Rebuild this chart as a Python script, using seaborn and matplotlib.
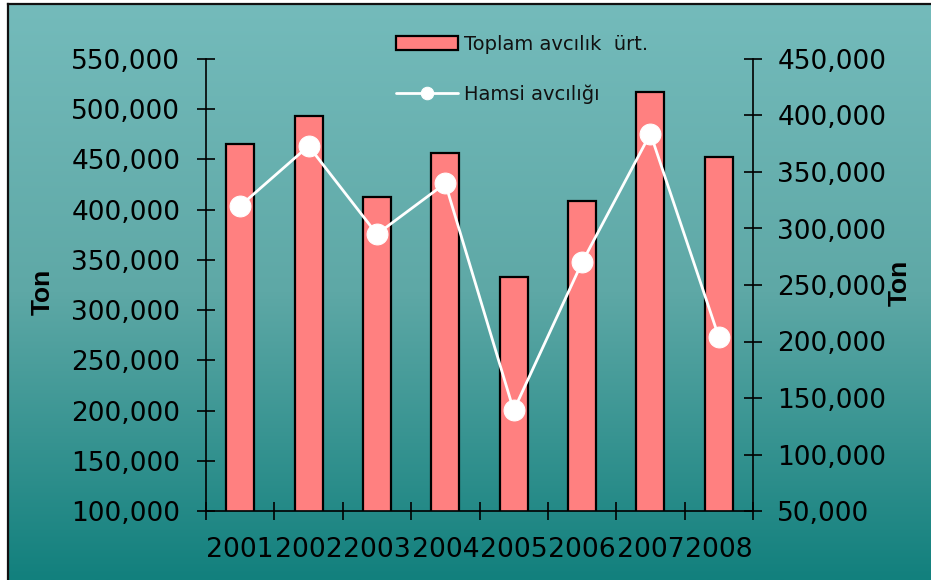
import numpy as np
import pandas as pd
import matplotlib
matplotlib.use("Agg")
import matplotlib.pyplot as plt
from matplotlib.colors import LinearSegmentedColormap
from matplotlib.ticker import FuncFormatter, FixedLocator
import seaborn as sns

# Annual catch data (tonnes)
years = ["2001", "2002", "2003", "2004", "2005", "2006", "2007", "2008"]
toplam = [465000, 493000, 413000, 456000, 333000, 409000, 517000, 452000]
hamsi = [320000, 373000, 295000, 340000, 139000, 270000, 384000, 204000]

left_ticks = [100000, 150000, 200000, 250000, 300000, 350000, 400000, 450000, 500000, 550000]
right_ticks = [50000, 100000, 150000, 200000, 250000, 300000, 350000, 400000, 450000]

label_bar = "Toplam avcılık  ürt."
label_line = "Hamsi avcılığı"

sns.set_theme(style="white")
plt.rcParams["font.family"] = ["DejaVu Sans"]
plt.rcParams["text.color"] = "black"

W, H = 931, 580
fig = plt.figure(figsize=(W / 100, H / 100), dpi=100)
fig.patch.set_facecolor("white")

# Gradient panel behind the chart
bg = fig.add_axes([8 / W, 0, 1 - 8 / W + 0.01, 1 - 4 / H], zorder=0)
cmap = LinearSegmentedColormap.from_list("teal", ["#74bbbb", "#5ea8a6", "#12807d"])
grad = np.linspace(0, 1, 256).reshape(-1, 1)
bg.imshow(grad, aspect="auto", cmap=cmap, extent=[0, 1, 0, 1], origin="upper")
bg.set_xlim(0, 1)
bg.set_ylim(0, 1)
bg.set_xticks([])
bg.set_yticks([])
for side, sp in bg.spines.items():
    sp.set_visible(side in ("left", "top"))
    sp.set_color("#111111")
    sp.set_linewidth(1.6)

ax_l, ax_r, ax_t, ax_b = 206, 753, 59, 511
ax = fig.add_axes([ax_l / W, 1 - ax_b / H, (ax_r - ax_l) / W, (ax_b - ax_t) / H], zorder=1)
ax.patch.set_alpha(0)

df = pd.DataFrame({"year": years, "toplam": toplam, "hamsi": hamsi})

sns.barplot(data=df, x="year", y="toplam", ax=ax, color="#ff8080", saturation=1,
            width=0.41, edgecolor="black", linewidth=1.6, label=label_bar)
ax.set_xlim(-0.5, len(years) - 0.5)
ax.set_ylim(100000, 550000)

ax2 = ax.twinx()
ax2.patch.set_alpha(0)
xpos = np.arange(len(years))
sns.lineplot(x=xpos, y=df["hamsi"], ax=ax2, color="white", linewidth=2,
             marker="o", markersize=15, markeredgecolor="white", label=label_line)
ax2.set_ylim(50000, 450000)
ax2.set_xlim(-0.5, len(years) - 0.5)

fmt = FuncFormatter(lambda v, p: f"{int(v):,}")
ax.yaxis.set_major_locator(FixedLocator(left_ticks))
ax.yaxis.set_major_formatter(fmt)
ax2.yaxis.set_major_locator(FixedLocator(right_ticks))
ax2.yaxis.set_major_formatter(fmt)

tick_font = 19
ax.tick_params(axis="y", direction="inout", length=13, width=1.2, color="black",
               labelsize=tick_font, labelcolor="black", pad=12, left=True)
ax2.tick_params(axis="y", direction="inout", length=13, width=1.2, color="black",
                labelsize=tick_font, labelcolor="black", pad=11, right=True)

# Category labels centred, boundary ticks as minor ticks
ax.set_xticks(xpos)
ax.set_xticklabels(years)
ax.set_xticks(np.arange(len(years) + 1) - 0.5, minor=True)
ax.tick_params(axis="x", which="major", length=0, labelsize=19.2, labelcolor="black", pad=19)
ax.tick_params(axis="x", which="minor", direction="inout", length=13, width=1.2,
               color="black", bottom=True)

for a in (ax, ax2):
    a.spines["top"].set_visible(False)
    for s in ("left", "right", "bottom"):
        a.spines[s].set_color("black")
        a.spines[s].set_linewidth(1.2)
ax.spines["right"].set_visible(False)
ax2.spines["left"].set_visible(False)
ax2.spines["bottom"].set_visible(False)

ax.set_xlabel("")
ax.set_ylabel("Ton", fontsize=19, fontweight="bold", family="Liberation Sans", color="black")
ax.yaxis.set_label_coords(-0.276, 0.485)
ax2.set_ylabel("Ton", fontsize=19, fontweight="bold", family="Liberation Sans",
               rotation=90, color="black")
ax2.yaxis.set_label_coords(1.247, 0.504)

h1, l1 = ax.get_legend_handles_labels()
h2, l2 = ax2.get_legend_handles_labels()
if ax.get_legend():
    ax.get_legend().remove()
if ax2.get_legend():
    ax2.get_legend().remove()
leg = fig.legend(h1 + h2, l1 + l2, loc="upper left",
                 bbox_to_anchor=(396 / W, 1 - 35 / H), frameon=False,
                 fontsize=14, handlelength=3.2, handleheight=0.7,
                 handletextpad=0.3, labelspacing=1.55, borderpad=0,
                 borderaxespad=0)
for t in leg.get_texts():
    t.set_color("#111111")
for lh in leg.legend_handles:
    if hasattr(lh, "set_markersize"):
        lh.set_markersize(9)

fig.savefig("out.png", dpi=100, facecolor=fig.get_facecolor())
